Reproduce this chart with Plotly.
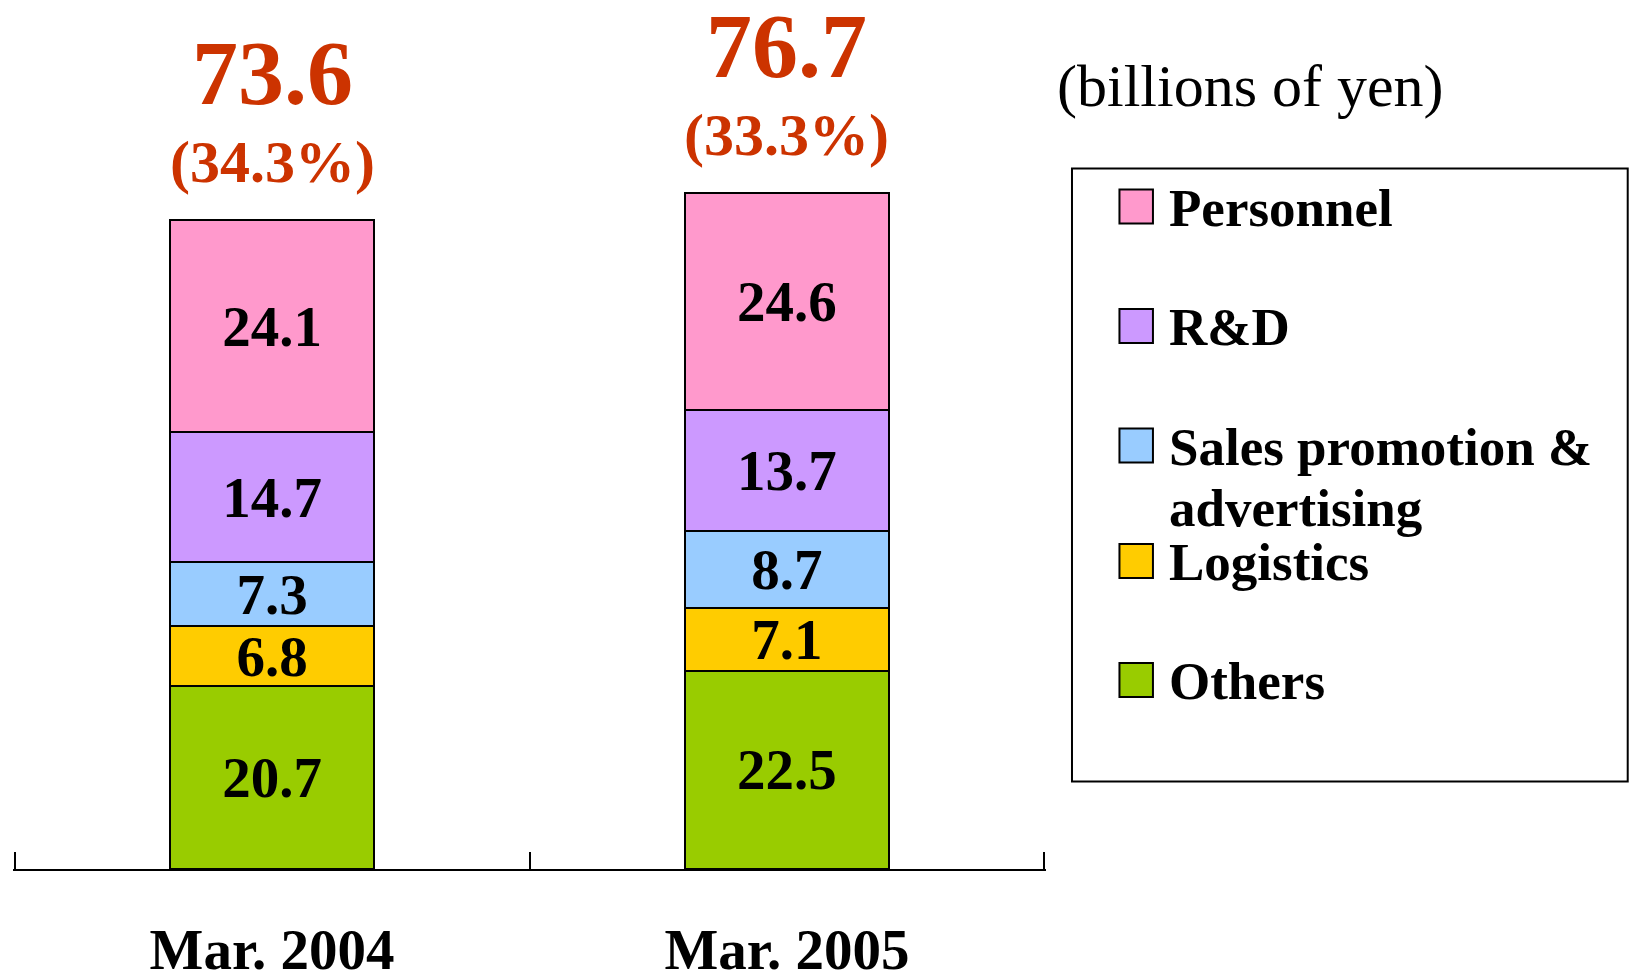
import plotly.graph_objects as go

# ---- data ----
periods = ["Mar. 2004", "Mar. 2005"]
others = [20.7, 22.5]
logistics = [6.8, 7.1]
sales_promo = [7.3, 8.7]
rnd = [14.7, 13.7]
personnel = [24.1, 24.6]
totals = ["73.6", "76.7"]
shares = ["(34.3%)", "(33.3%)"]
unit_label = "(billions of yen)"

series = [
    ("Others", others, "#99CC00"),
    ("Logistics", logistics, "#FFCC00"),
    ("Sales promotion &<br>advertising", sales_promo, "#99CCFF"),
    ("R&D", rnd, "#CC99FF"),
    ("Personnel", personnel, "#FF99CC"),
]

FONT = "Liberation Serif, Times New Roman, serif"
RED = "#CC3300"

W, H = 1632, 971
# plot area in page pixels
L, R, T, B = 12.5, 1046, 31, 869


def px(x):
    return (x - L) / (R - L)


def py(y):
    return (B - y) / (B - T)


fig = go.Figure()
for name, vals, color in series:
    fig.add_trace(go.Bar(
        x=periods, y=vals, name=name,
        marker=dict(color=color, line=dict(color="black", width=2)),
        text=[f"{v:.1f}" for v in vals],
        textposition="inside", insidetextanchor="middle", textangle=0,
        textfont=dict(family=FONT, size=57, color="black", weight="bold"),
        showlegend=False,
    ))

annotations = []
for i, (p, tot, sh) in enumerate(zip(periods, totals, shares)):
    ytop = sum(vals[i] for _, vals, _ in series)
    annotations.append(dict(x=p, y=ytop, xref="x", yref="y", text=tot,
                            showarrow=False, yanchor="middle", yshift=147,
                            font=dict(family=FONT, size=92, color=RED, weight="bold")))
    annotations.append(dict(x=p, y=ytop, xref="x", yref="y", text=sh,
                            showarrow=False, yanchor="middle", yshift=58,
                            font=dict(family=FONT, size=60, color=RED, weight="bold")))

annotations.append(dict(x=px(1055), y=py(86), xref="paper", yref="paper",
                        text=unit_label, showarrow=False, xanchor="left", yanchor="middle",
                        font=dict(family=FONT, size=60, color="black")))

# ---- manual legend ----
shapes = [dict(type="rect", xref="paper", yref="paper",
               x0=px(1072), x1=px(1628), y0=py(168.5), y1=py(781.5),
               line=dict(color="black", width=2), fillcolor="rgba(0,0,0,0)")]
legend_centers = [680, 561, 445.5, 326, 206.5]  # pixel centers, in series order
for (name, vals, color), cy in zip(series, legend_centers):
    shapes.append(dict(type="rect", xref="paper", yref="paper",
                       x0=px(1119.5), x1=px(1153), y0=py(cy - 17), y1=py(cy + 17),
                       line=dict(color="black", width=2), fillcolor=color))
    for j, line in enumerate(name.split("<br>")):
        annotations.append(dict(x=px(1167), y=py(cy + 1 + 61 * j), xref="paper", yref="paper",
                                text=line, showarrow=False, xanchor="left", yanchor="middle",
                                font=dict(family=FONT, size=53, color="black", weight="bold")))

fig.update_layout(
    barmode="stack",
    bargap=0.603,
    width=W, height=H,
    margin=dict(l=L, r=W - R, t=T, b=H - B, pad=0, autoexpand=False),
    plot_bgcolor="white", paper_bgcolor="white",
    showlegend=False,
    uniformtext=dict(mode="show", minsize=57),
    annotations=annotations,
    shapes=shapes,
    xaxis=dict(type="category", range=[-0.503, 1.503], showline=True, linecolor="black",
               linewidth=2, ticks="inside", ticklen=17, tickwidth=2, tickcolor="black",
               tickson="boundaries", showgrid=False, zeroline=False, automargin=False,
               ticklabelstandoff=30,
               tickfont=dict(family=FONT, size=57, color="black", weight="bold")),
    yaxis=dict(visible=False, range=[0, 95], showgrid=False, zeroline=False, automargin=False),
)

fig.write_html("out.html",
               config={"displayModeBar": False},
               post_script="document.body.style.margin='0px';"
                           "document.body.style.overflow='hidden';")
